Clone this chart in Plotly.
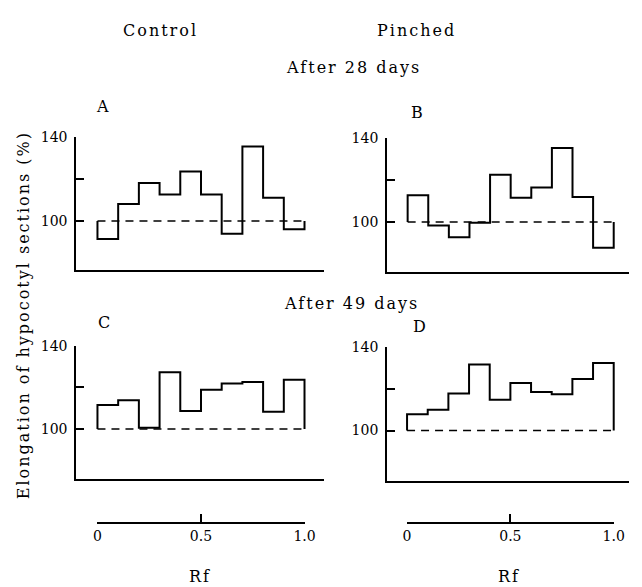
import plotly.graph_objects as go

# Rf bin edges (10 zones of 0.1) and elongation (% of control) per zone
rf_edges = [0.0, 0.1, 0.2, 0.3, 0.4, 0.5, 0.6, 0.7, 0.8, 0.9, 1.0]
control_28 = [91.4, 108.2, 118.2, 112.7, 123.7, 112.7, 94.0, 135.6, 111.1, 96.1]
pinched_28 = [112.9, 98.4, 92.8, 99.7, 122.7, 111.7, 116.5, 135.4, 112.0, 87.7]
control_49 = [111.6, 113.8, 100.6, 127.3, 108.6, 118.9, 121.9, 122.7, 108.3, 123.7]
pinched_49 = [107.8, 109.9, 117.7, 131.5, 114.7, 122.7, 118.3, 117.3, 124.5, 132.2]

baseline = 100
y_ticks = [100, 120, 140]
y_tick_text = ["100", "", "140"]
rf_ticks = [0, 0.5, 1.0]
rf_tick_text = ["0", "0.5", "1.0"]

W, H = 642, 587
FONT = "DejaVu Serif"


def fx(px):
    return px / W


def fy(py):
    return 1 - py / H


def step_outline(edges, vals, base):
    xs, ys = [edges[0]], [base]
    for i, v in enumerate(vals):
        xs += [edges[i], edges[i + 1]]
        ys += [v, v]
    xs.append(edges[-1])
    ys.append(base)
    return xs, ys


# panel geometry in pixels: axis left/right, bin span, y top/bottom, y range
panels = [
    dict(name="A", vals=control_28, x0=74, x1=328, b0=95.7, b1=307.7, t=131, b=266, ymin=76.5),
    dict(name="B", vals=pinched_28, x0=392.3, x1=640, b0=413.3, b1=624.3, t=132.3, b=267.7, ymin=76.1),
    dict(name="C", vals=control_49, x0=74, x1=328, b0=95.7, b1=307.7, t=342.7, b=478, ymin=75.6),
    dict(name="D", vals=pinched_49, x0=392.3, x1=640, b0=412.7, b1=624.3, t=343.3, b=480, ymin=75.7),
]

fig = go.Figure()
layout = {}

for i, p in enumerate(panels, start=1):
    xa = "x" if i == 1 else f"x{i}"
    ya = "y" if i == 1 else f"y{i}"
    xs, ys = step_outline(rf_edges, p["vals"], baseline)
    fig.add_trace(go.Scatter(x=xs, y=ys, mode="lines", xaxis=xa, yaxis=ya,
                             line=dict(color="black", width=2), hoverinfo="skip",
                             showlegend=False))
    fig.add_trace(go.Scatter(x=[rf_edges[0], rf_edges[-1]], y=[baseline, baseline],
                             mode="lines", xaxis=xa, yaxis=ya,
                             line=dict(color="black", width=1.5, dash="8px,6px"),
                             hoverinfo="skip", showlegend=False))
    span = p["b1"] - p["b0"]
    xr = [(p["x0"] - p["b0"]) / span, (p["x1"] - p["b0"]) / span]
    key = "" if i == 1 else str(i)
    layout[f"xaxis{key}"] = dict(domain=[fx(p["x0"]), fx(p["x1"])], range=xr,
                                 anchor=ya, showline=True, linecolor="black", linewidth=2,
                                 showgrid=False, zeroline=False, showticklabels=False,
                                 ticks="")
    layout[f"yaxis{key}"] = dict(domain=[fy(p["b"]), fy(p["t"])], range=[p["ymin"], 140],
                                 anchor=xa, showline=True, linecolor="black", linewidth=2,
                                 showgrid=False, zeroline=False, ticks="inside",
                                 ticklen=8, tickwidth=2, tickcolor="black",
                                 tickvals=y_ticks, ticktext=y_tick_text,
                                 ticklabelstandoff=4,
                                 tickfont=dict(family=FONT, size=14, color="black"))

# Rf scale bars below each column
for j, (b0, b1) in enumerate([(95.7, 307.7), (412.7, 624.3)], start=5):
    fig.add_trace(go.Scatter(x=[0.5], y=[0], mode="markers", xaxis=f"x{j}", yaxis=f"y{j}",
                             marker=dict(opacity=0), hoverinfo="skip", showlegend=False))
    layout[f"xaxis{j}"] = dict(domain=[fx(b0), fx(b1)], range=[0, 1], anchor=f"y{j}",
                               showline=True, linecolor="black", linewidth=2,
                               showgrid=False, zeroline=False, ticks="inside",
                               ticklen=8, tickwidth=2, tickcolor="black",
                               tickvals=rf_ticks, ticktext=rf_tick_text,
                               tickfont=dict(family=FONT, size=14, color="black"))
    layout[f"yaxis{j}"] = dict(domain=[fy(521), fy(505)], visible=False, range=[-1, 1])

ann_font = dict(family=FONT, size=16, color="black")
annotations = [
    dict(text="Control", x=fx(160), y=fy(23)),
    dict(text="Pinched", x=fx(422), y=fy(23)),
    dict(text="After 28 days", x=fx(358), y=fy(60)),
    dict(text="After 49 days", x=fx(356), y=fy(300)),
    dict(text="A", x=fx(102), y=fy(100)),
    dict(text="B", x=fx(424), y=fy(106)),
    dict(text="C", x=fx(103), y=fy(319)),
    dict(text="D", x=fx(426), y=fy(323)),
    dict(text="Rf", x=fx(201), y=fy(576)),
    dict(text="Rf", x=fx(518), y=fy(576)),
    dict(text="Elongation of hypocotyl sections (%)", x=fx(20), y=fy(312), textangle=-90),
]
for a in annotations:
    a.update(xref="paper", yref="paper", showarrow=False, xanchor="center",
             yanchor="middle", font=ann_font)

fig.update_layout(
    width=W, height=H, margin=dict(l=0, r=0, t=0, b=0),
    paper_bgcolor="white", plot_bgcolor="white",
    annotations=annotations, showlegend=False, **layout,
)

# widen the letter spacing of the typeset captions
post = """
var gd = document.getElementById('{plot_id}');
gd.querySelectorAll('.annotation-text').forEach(function(t){
  t.style.letterSpacing = '2px';
});
"""
fig.write_html("out.html", post_script=post)
